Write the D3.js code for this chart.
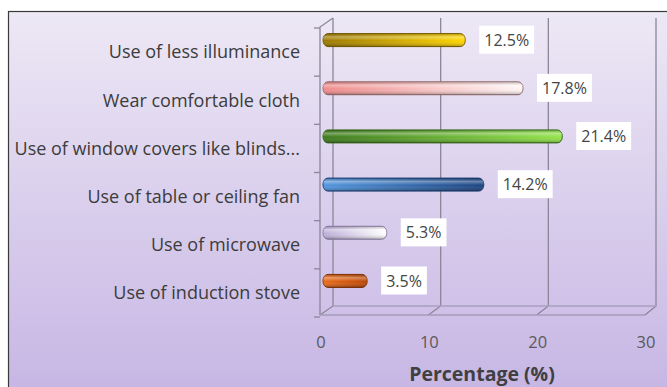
<!DOCTYPE html>
<html>
<head>
<meta charset="utf-8">
<script src="https://cdn.jsdelivr.net/npm/d3@7"></script>
<style>
  html, body { margin: 0; padding: 0; background: #fff; }
  svg { display: block; }
</style>
</head>
<body>
<div id="chart"></div>
<script>
const categories = [
  "Use of less illuminance",
  "Wear comfortable cloth",
  "Use of window covers like blinds...",
  "Use of table or ceiling fan",
  "Use of microwave",
  "Use of induction stove"
];
const values = [12.5, 17.8, 21.4, 14.2, 5.3, 3.5];
const valueLabels = ["12.5%", "17.8%", "21.4%", "14.2%", "5.3%", "3.5%"];
const xTicks = [0, 10, 20, 30];
const barColors = [
  ["#9c7800", "#ffd600"],
  ["#ef8a8a", "#fff6f6"],
  ["#3c7a1c", "#92e34a"],
  ["#5296de", "#1c4481"],
  ["#bcaed8", "#ffffff"],
  ["#ea6c1c", "#bd4603"]
];
const barStrokes = ["#7d6000", "#9a7272", "#356b1a", "#1a3d73", "#8c7ca8", "#8a3403"];

const width = 667, height = 387;
const font = "'Open Sans', 'DejaVu Sans', sans-serif";

const svg = d3.select("#chart").append("svg")
  .attr("width", width)
  .attr("height", height);

const defs = svg.append("defs");

const bg = defs.append("linearGradient")
  .attr("id", "bg").attr("x1", 0).attr("y1", 0).attr("x2", 0).attr("y2", 1);
bg.append("stop").attr("offset", "0%").attr("stop-color", "#ede8f5");
bg.append("stop").attr("offset", "100%").attr("stop-color", "#c6b5e4");

barColors.forEach((c, i) => {
  const g = defs.append("linearGradient")
    .attr("id", "bar" + i).attr("x1", 0).attr("y1", 0).attr("x2", 1).attr("y2", 0);
  g.append("stop").attr("offset", "0%").attr("stop-color", c[0]);
  g.append("stop").attr("offset", "100%").attr("stop-color", c[1]);
});

const shade = defs.append("linearGradient")
  .attr("id", "shade").attr("x1", 0).attr("y1", 0).attr("x2", 0).attr("y2", 1);
shade.append("stop").attr("offset", "0%").attr("stop-color", "#000").attr("stop-opacity", 0.15);
shade.append("stop").attr("offset", "25%").attr("stop-color", "#fff").attr("stop-opacity", 0.35);
shade.append("stop").attr("offset", "55%").attr("stop-color", "#fff").attr("stop-opacity", 0);
shade.append("stop").attr("offset", "100%").attr("stop-color", "#000").attr("stop-opacity", 0.3);

// frame
svg.append("rect")
  .attr("x", 8.5).attr("y", 11.5)
  .attr("width", width).attr("height", height)
  .attr("fill", "url(#bg)")
  .attr("stroke", "#3a3a3a")
  .attr("stroke-width", 1.2);

// 3d geometry: back wall vs front axis
const depthY = 9;
const backTop = 18, backBottom = 306;

const xBack = d3.scaleLinear().domain([0, 30]).range([333, 656]);
const xFront = d3.scaleLinear().domain([0, 30]).range([320, 645]);
const xBar = d3.scaleLinear().domain([0, 30]).range([329, 656]);

const yBar = d3.scaleBand().domain(categories).range([16, 305]);
const yFront = d3.scaleBand().domain(categories).range([backTop + depthY + 1, backBottom + depthY + 2]);

const grid = svg.append("g")
  .attr("fill", "none")
  .attr("stroke", "#8b8699")
  .attr("stroke-width", 1.3);

xTicks.forEach(t => {
  grid.append("path")
    .attr("d", `M${xBack(t)},${backTop} L${xBack(t)},${backBottom} L${xFront(t)},${backBottom + depthY}`);
});
// back floor edge
grid.append("line")
  .attr("x1", xBack(0)).attr("x2", xBack(30))
  .attr("y1", backBottom).attr("y2", backBottom)
  .attr("stroke", "#a9a0c0");

// left wall, front edge
grid.append("path")
  .attr("d", `M${xBack(0)},${backTop} L${xFront(0)},${backTop + depthY} L${xFront(0)},${backBottom + depthY}`);
// floor front edge
grid.append("line")
  .attr("x1", xFront(0)).attr("x2", xFront(30))
  .attr("y1", backBottom + depthY).attr("y2", backBottom + depthY)
  .attr("stroke", "#a39cba");

// category ticks on front axis
const tickYs = categories.map(c => yFront(c)).concat([yFront.range()[1]]);
grid.selectAll(".ytick")
  .data(tickYs)
  .join("line")
  .attr("x1", xFront(0) - 6).attr("x2", xFront(0))
  .attr("y1", d => d).attr("y2", d => d);

// bars
const barH = 13;
const bars = svg.append("g");
categories.forEach((c, i) => {
  const y = yBar(c) + yBar.bandwidth() / 2 - barH / 2;
  const x0 = xBar(0) - 6;
  const w = xBar(values[i]) - x0;
  bars.append("rect")
    .attr("x", x0).attr("y", y)
    .attr("width", w).attr("height", barH)
    .attr("rx", 5).attr("ry", 6)
    .attr("fill", `url(#bar${i})`)
    .attr("stroke", barStrokes[i])
    .attr("stroke-width", 1);
  bars.append("rect")
    .attr("x", x0).attr("y", y)
    .attr("width", w).attr("height", barH)
    .attr("rx", 5).attr("ry", 6)
    .attr("fill", "url(#shade)");
});

// value labels
const vl = svg.append("g");
categories.forEach((c, i) => {
  const cy = yBar(c) + yBar.bandwidth() / 2;
  const x = xBar(values[i]) + 14;
  const t = vl.append("text")
    .attr("x", x + 5).attr("y", cy)
    .attr("dy", "0.35em")
    .attr("font-family", font)
    .attr("font-size", 16)
    .attr("fill", "#454545")
    .text(valueLabels[i]);
  const bb = t.node().getBBox();
  vl.insert("rect", "text")
    .attr("x", bb.x - 5).attr("y", bb.y - 3)
    .attr("width", bb.width + 10).attr("height", bb.height + 6)
    .attr("fill", "#fff");
});

// category labels
const cl = svg.append("g");
categories.forEach(c => {
  const t = cl.append("text")
    .attr("x", 300)
    .attr("y", yFront(c) + yFront.bandwidth() / 2)
    .attr("dy", "0.35em")
    .attr("text-anchor", "end")
    .attr("font-family", font)
    .attr("font-size", 18)
    .attr("fill", "#3c3c3c")
    .text(c);
  const len = t.node().getComputedTextLength();
  if (300 - len < 12) {
    t.attr("text-anchor", "start").attr("x", 12);
  }
});

// x axis tick labels
svg.append("g")
  .selectAll("text")
  .data(xTicks)
  .join("text")
  .attr("x", d => xFront(d) + 1)
  .attr("y", 342)
  .attr("dy", "0.35em")
  .attr("text-anchor", "middle")
  .attr("font-family", font)
  .attr("font-size", 16.5)
  .attr("fill", "#595959")
  .text(d => d);

// axis title
svg.append("text")
  .attr("x", 482)
  .attr("y", 381)
  .attr("text-anchor", "middle")
  .attr("font-family", font)
  .attr("font-size", 19.5)
  .attr("font-weight", "bold")
  .attr("fill", "#404040")
  .text("Percentage (%)");
</script>
</body>
</html>
